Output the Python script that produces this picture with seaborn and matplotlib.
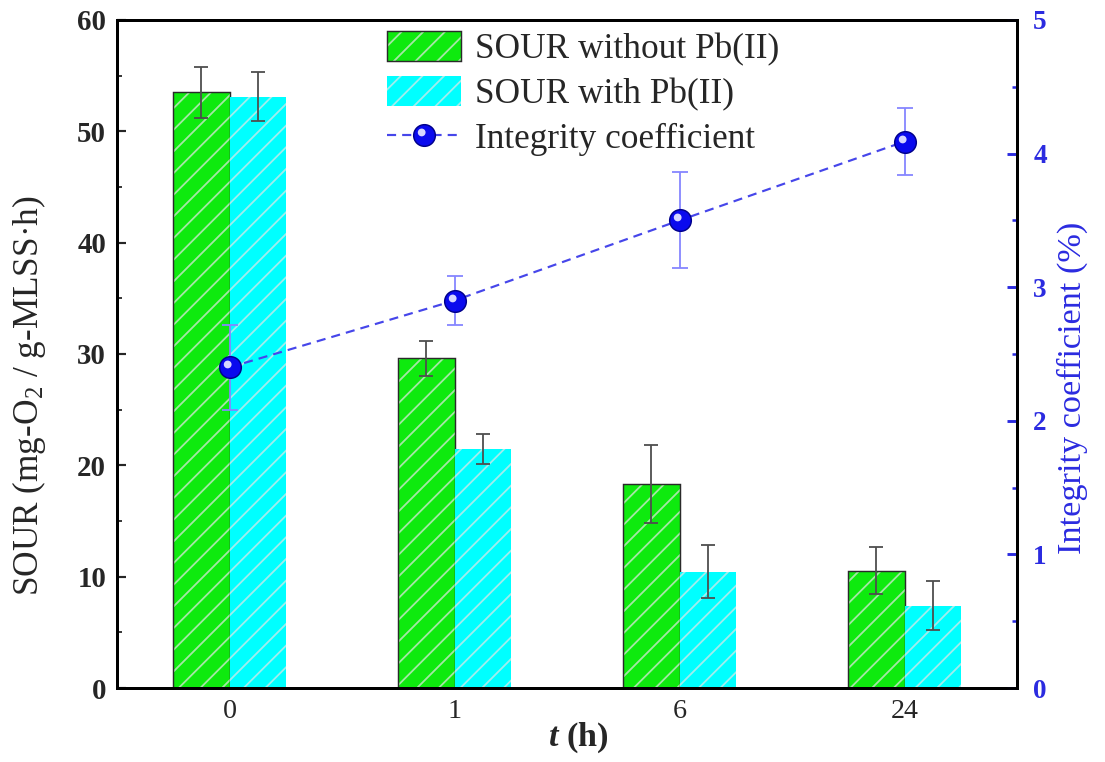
import numpy as np
import pandas as pd
import matplotlib
matplotlib.use("Agg")
import matplotlib.pyplot as plt
from matplotlib.path import Path
from matplotlib.ticker import MultipleLocator
from matplotlib.lines import Line2D
from matplotlib.legend_handler import HandlerTuple
import seaborn as sns

# ---- data ----
times = ["0", "1", "6", "24"]
series_names = ["SOUR without Pb(II)", "SOUR with Pb(II)"]
sour_without = [53.5, 29.6, 18.3, 10.55]
sour_without_err = [2.3, 1.6, 3.5, 2.15]
sour_with = [53.1, 21.5, 10.45, 7.4]
sour_with_err = [2.2, 1.35, 2.4, 2.2]
line_name = "Integrity coefficient"
integrity = [2.40, 2.90, 3.50, 4.09]
integrity_err = [0.32, 0.18, 0.36, 0.25]

GREEN = "#0EEA0E"
CYAN = "#00FFFF"
BLUE_LINE = "#4646EA"
BLUE_MARK = "#0A0AEE"
BLUE_TXT = "#2B2BE0"
ERR_GRAY = "#4E4E4E"
ERR_BLUE = "#8686FF"
MS = 12

sns.set_theme(style="ticks")
plt.rcParams["font.family"] = ["Liberation Serif", "DejaVu Serif"]
plt.rcParams["mathtext.fontset"] = "custom"
plt.rcParams["mathtext.rm"] = "Liberation Serif"
plt.rcParams["mathtext.it"] = "Liberation Serif:italic:bold"
plt.rcParams["mathtext.bf"] = "Liberation Serif:bold"
plt.rcParams["hatch.linewidth"] = 1.0
plt.rcParams["axes.edgecolor"] = "black"

DPI = 130
fig = plt.figure(figsize=(1105 / DPI, 762 / DPI), dpi=DPI)
ax = fig.add_axes([0.1059, 0.0971, 0.8145, 0.8767])

df = pd.DataFrame({
    "time": times * 2,
    "sour": sour_without + sour_with,
    "series": [series_names[0]] * len(times) + [series_names[1]] * len(times),
})
errs = [sour_without_err, sour_with_err]

sns.barplot(data=df, x="time", y="sour", hue="series", order=times,
            hue_order=series_names, palette=[GREEN, CYAN], width=0.5,
            saturation=1, errorbar=None, legend=False, ax=ax)
bar_groups = list(ax.containers)

hatch_rgba = (0.9, 0.9, 0.9, 0.7)
for i, cont in enumerate(bar_groups):
    for p in cont.patches:
        p.set_hatch("//")
        if i == 0:
            p.set_edgecolor("#2A2A2A")
            p.set_linewidth(0.8)
        else:
            p.set_edgecolor("none")
            p.set_linewidth(0)
        p._hatch_color = hatch_rgba
        p.stale = True
    xs = [p.get_x() + p.get_width() / 2 for p in cont.patches]
    hs = [p.get_height() for p in cont.patches]
    ax.errorbar(xs, hs, yerr=errs[i], fmt="none", ecolor=ERR_GRAY,
                elinewidth=1.0, capsize=3.8, capthick=1.0, zorder=3)

ax.set_ylim(0, 60)
ax.set_xlim(-0.5, len(times) - 0.5)
ax.yaxis.set_major_locator(MultipleLocator(10))
ax.yaxis.set_minor_locator(MultipleLocator(5))
ax.tick_params(axis="y", which="major", direction="in", length=5, width=1.2,
               labelsize=16, pad=6, right=False)
ax.tick_params(axis="y", which="minor", direction="in", length=2.5, width=1.0,
               right=False)
ax.tick_params(axis="x", which="major", direction="in", length=3.5, width=1.6,
               labelsize=15.5, pad=6, top=False)
for lbl in ax.get_yticklabels():
    lbl.set_fontweight("bold")
for s in ax.spines.values():
    s.set_linewidth(1.6)
    s.set_color("black")

ax.set_ylabel("SOUR (mg-O$_2$ / g-MLSS·h)", fontsize=19.5)
ax.yaxis.set_label_coords(-0.077, 0.437)
ax.set_xlabel("$t$ (h)", fontsize=19, fontweight="bold")
ax.xaxis.set_label_coords(0.513, -0.049)

# ---- integrity coefficient on the secondary axis ----
ax2 = ax.twinx()
df_ic = pd.DataFrame({"time": times, "ic": integrity})
ax2.errorbar(np.arange(len(times)), integrity, yerr=integrity_err, fmt="none",
             ecolor=ERR_BLUE, elinewidth=1.0, capsize=4.6, capthick=1.0,
             zorder=2)
sns.pointplot(data=df_ic, x="time", y="ic", order=times, color=BLUE_LINE,
              markers="o", linestyles="--", errorbar=None, ax=ax2,
              markersize=MS, linewidth=1.2)
ic_line = ax2.lines[-1]
ic_line.set_color(BLUE_LINE)
ic_line.set_dashes([4.2, 2.8])
ic_line.set_markerfacecolor(BLUE_MARK)
ic_line.set_markeredgecolor("#00008A")
ic_line.set_markeredgewidth(0.8)
ic_line.set_zorder(4)

# glossy highlight on each sphere marker
glint = Path.make_compound_path(
    Path.circle(center=(-0.13, 0.14), radius=0.18),
    Path([(0.5, 0.5), (-0.5, -0.5)], [Path.MOVETO, Path.MOVETO]),
)
ax2.plot(ic_line.get_xdata(), ic_line.get_ydata(), linestyle="none",
         marker=glint, markersize=MS, markerfacecolor="#D6D6FF",
         markeredgewidth=0, zorder=5)

ax2.set_ylim(0, 5)
ax2.set_xlim(-0.5, len(times) - 0.5)
ax2.yaxis.set_major_locator(MultipleLocator(1))
ax2.yaxis.set_minor_locator(MultipleLocator(0.5))
ax2.tick_params(axis="y", which="major", direction="in", length=5.5, width=1.6,
                colors=BLUE_TXT, labelsize=15, pad=9)
ax2.tick_params(axis="y", which="minor", direction="in", length=3, width=1.4,
                colors=BLUE_TXT)
for lbl in ax2.get_yticklabels():
    lbl.set_fontweight("bold")
for s in ax2.spines.values():
    s.set_linewidth(1.6)
    s.set_color("black")
ax2.set_ylabel("Integrity coefficient (%)", fontsize=19, color=BLUE_TXT)
ax2.yaxis.set_label_coords(1.044, 0.449)
ax2.set_xlabel("")

# ---- legend ----
line_handle = Line2D([], [], color=BLUE_LINE, linestyle="--", dashes=[4.2, 2.8],
                     linewidth=1.2, marker="o", markersize=MS,
                     markerfacecolor=BLUE_MARK, markeredgecolor="#00008A",
                     markeredgewidth=0.8)
glint_handle = Line2D([], [], linestyle="none", marker=glint, markersize=MS,
                      markerfacecolor="#D6D6FF", markeredgewidth=0)
handles = [bar_groups[0], bar_groups[1], (line_handle, glint_handle)]
labels = series_names + [line_name]
ax2.legend(handles, labels, loc="upper left", bbox_to_anchor=(0.3, 0.984),
           bbox_transform=ax2.transAxes, frameon=False, fontsize=19.5,
           handlelength=2.1, handleheight=0.95, handletextpad=0.4,
           labelspacing=0.28, borderpad=0, borderaxespad=0,
           handler_map={tuple: HandlerTuple(ndivide=1)})

fig.savefig("out.png", dpi=DPI)
